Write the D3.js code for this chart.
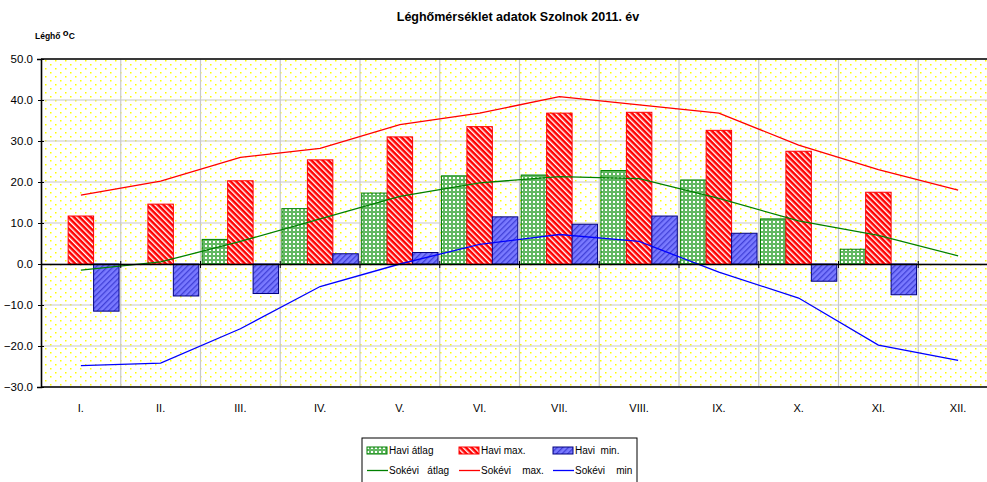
<!DOCTYPE html>
<html>
<head>
<meta charset="utf-8">
<script src="https://cdn.jsdelivr.net/npm/d3@7"></script>
<style>
  body { margin: 0; background: #fff; }
  text { font-family: "Liberation Sans", Arial, sans-serif; }
</style>
</head>
<body>
<div id="chart"></div>
<script>
// months
var months = ["I.", "II.", "III.", "IV.", "V.", "VI.", "VII.", "VIII.", "IX.", "X.", "XI.", "XII."];

// monthly values of 2011 (bars), null = no data
var haviAtlag = [null, null, 6.0, 13.5, 17.3, 21.5, 21.7, 22.8, 20.5, 11.0, 3.6, null];
var haviMax   = [11.7, 14.6, 20.3, 25.4, 31.0, 33.5, 36.8, 37.0, 32.6, 27.5, 17.5, null];
var haviMin   = [-11.5, -7.8, -7.2, 2.5, 2.8, 11.5, 9.7, 11.7, 7.5, -4.2, -7.5, null];

// long term values (lines)
var sokeviAtlag = [-1.5, 0.5, 5.5, 11.0, 16.5, 19.8, 21.3, 20.8, 16.0, 10.5, 7.0, 2.0];
var sokeviMax   = [16.8, 20.2, 26.0, 28.2, 34.0, 36.8, 40.8, 38.8, 36.8, 29.0, 23.0, 18.0];
var sokeviMin   = [-24.8, -24.2, -15.8, -5.5, 0.0, 4.8, 7.2, 5.5, -2.0, -8.3, -19.8, -23.5];

var yTicks = [50, 40, 30, 20, 10, 0, -10, -20, -30];

var barSeries = [
    {name: "Havi átlag", values: haviAtlag, fill: "url(#patGreen)", stroke: "#008000"},
    {name: "Havi max.", values: haviMax, fill: "url(#patRed)", stroke: "#ff0000"},
    {name: "Havi  min.", values: haviMin, fill: "url(#patBlue)", stroke: "#000080"}
];
var lineSeries = [
    {name: "Sokévi   átlag", values: sokeviAtlag, color: "#008000"},
    {name: "Sokévi    max.", values: sokeviMax, color: "#ff0000"},
    {name: "Sokévi    min", values: sokeviMin, color: "#0000ff"}
];

var width = 987, height = 482;
var plot = {left: 41, top: 59, right: 998, bottom: 387};

var svg = d3.select("#chart").append("svg")
    .attr("width", width)
    .attr("height", height);

var defs = svg.append("defs");

// yellow dotted background of the plot area
var bg = defs.append("pattern").attr("id", "patBg")
    .attr("patternUnits", "userSpaceOnUse")
    .attr("width", 10).attr("height", 8);
bg.append("rect").attr("width", 10).attr("height", 8).attr("fill", "#fff");
[[0, 0], [5, 4]].forEach(function(p) {
    bg.append("rect").attr("x", p[0]).attr("y", p[1]).attr("width", 1.5).attr("height", 1.5).attr("fill", "#ffff00");
});

// green dotted fill
var pg = defs.append("pattern").attr("id", "patGreen")
    .attr("patternUnits", "userSpaceOnUse")
    .attr("width", 4).attr("height", 4);
pg.append("rect").attr("width", 4).attr("height", 4).attr("fill", "#62b862");
pg.append("rect").attr("x", 1).attr("y", 1).attr("width", 2).attr("height", 2).attr("fill", "#ffffff");

// red hatch
var pr = defs.append("pattern").attr("id", "patRed")
    .attr("patternUnits", "userSpaceOnUse")
    .attr("width", 4).attr("height", 4)
    .attr("patternTransform", "rotate(-45)");
pr.append("rect").attr("width", 4).attr("height", 4).attr("fill", "#ff0000");
pr.append("rect").attr("width", 1.4).attr("height", 4).attr("fill", "#fff");

// blue hatch
var pb = defs.append("pattern").attr("id", "patBlue")
    .attr("patternUnits", "userSpaceOnUse")
    .attr("width", 4).attr("height", 4)
    .attr("patternTransform", "rotate(45)");
pb.append("rect").attr("width", 4).attr("height", 4).attr("fill", "#7a7aff");
pb.append("rect").attr("width", 1.3).attr("height", 4).attr("fill", "#4040d8");

// scales
var x = d3.scaleBand().domain(months).range([plot.left, plot.right]);
var x1 = d3.scaleBand().domain(barSeries.map(function(d) { return d.name; }))
    .range([1.7, x.bandwidth() - 1.7]);
var y = d3.scaleLinear().domain([-30, 50]).range([plot.bottom, plot.top]);

// title
svg.append("text")
    .attr("x", 518).attr("y", 21)
    .attr("text-anchor", "middle")
    .style("font-size", "12.5px").style("font-weight", "bold")
    .text("Léghőmérséklet adatok Szolnok 2011. év");

var yl = svg.append("text")
    .attr("x", 35).attr("y", 39)
    .style("font-size", "8.5px").style("font-weight", "bold");
yl.append("tspan").text("Léghő ");
yl.append("tspan").attr("dy", -3).style("font-size", "9.5px").text("o");
yl.append("tspan").attr("dy", 3).text("C");

// plot background
svg.append("rect")
    .attr("x", plot.left).attr("y", plot.top)
    .attr("width", plot.right - plot.left).attr("height", plot.bottom - plot.top)
    .attr("fill", "url(#patBg)");

// grid
svg.append("g").selectAll("line.h")
    .data(yTicks)
    .enter().append("line")
    .attr("x1", plot.left).attr("x2", plot.right)
    .attr("y1", function(d) { return y(d); }).attr("y2", function(d) { return y(d); })
    .attr("stroke", "#c8c8c8").attr("stroke-width", 1.2);

svg.append("g").selectAll("line.v")
    .data(months.slice(1))
    .enter().append("line")
    .attr("x1", function(d) { return x(d); }).attr("x2", function(d) { return x(d); })
    .attr("y1", plot.top).attr("y2", plot.bottom)
    .attr("stroke", "#c8c8c8").attr("stroke-width", 1.2);

// bars
barSeries.forEach(function(s) {
    svg.append("g").selectAll("rect")
        .data(s.values.map(function(v, i) { return {m: months[i], v: v}; })
            .filter(function(d) { return d.v !== null; }))
        .enter().append("rect")
        .attr("x", function(d) { return x(d.m) + x1(s.name); })
        .attr("width", x1.bandwidth())
        .attr("y", function(d) { return y(Math.max(0, d.v)); })
        .attr("height", function(d) { return Math.abs(y(d.v) - y(0)); })
        .attr("fill", s.fill)
        .attr("stroke", s.stroke)
        .attr("stroke-width", 1);
});

// lines
var line = d3.line()
    .x(function(d, i) { return x(months[i]) + x.bandwidth() / 2; })
    .y(function(d) { return y(d); });

lineSeries.forEach(function(s) {
    svg.append("path")
        .attr("d", line(s.values))
        .attr("fill", "none")
        .attr("stroke", s.color)
        .attr("stroke-width", 1.3);
});

// plot frame
svg.append("line").attr("x1", plot.left).attr("x2", plot.right)
    .attr("y1", plot.top).attr("y2", plot.top).attr("stroke", "#000").attr("stroke-width", 1.3);
svg.append("line").attr("x1", plot.left).attr("x2", plot.right)
    .attr("y1", plot.bottom).attr("y2", plot.bottom).attr("stroke", "#000").attr("stroke-width", 1.6);

// zero line with category ticks
var xAxis = svg.append("g")
    .attr("transform", "translate(0," + y(0) + ")")
    .call(d3.axisBottom(x).tickValues([]).tickSizeOuter(0));
xAxis.select(".domain").attr("stroke", "#000").attr("stroke-width", 1.5);
xAxis.selectAll("line.cat")
    .data(months.slice(1))
    .enter().append("line")
    .attr("x1", function(d) { return x(d); }).attr("x2", function(d) { return x(d); })
    .attr("y1", -3).attr("y2", 4)
    .attr("stroke", "#000");

// category labels
svg.append("g").selectAll("text")
    .data(months)
    .enter().append("text")
    .attr("x", function(d) { return x(d) + x.bandwidth() / 2; })
    .attr("y", 412)
    .attr("text-anchor", "middle")
    .style("font-size", "11px")
    .text(function(d) { return d; });

// y axis
var yAxis = svg.append("g")
    .attr("transform", "translate(" + plot.left + ",0)")
    .call(d3.axisLeft(y).tickValues(yTicks).tickSize(4).tickPadding(4)
        .tickFormat(d3.format(".1f")));
yAxis.select(".domain").attr("stroke", "#000").attr("stroke-width", 1.6);
yAxis.selectAll(".tick line").attr("stroke", "#000").attr("x2", 3).attr("x1", -3);
yAxis.selectAll(".tick text").style("font-size", "11.5px").attr("fill", "#000")
    .style("font-family", "'Liberation Sans', Arial, sans-serif");

// legend
var lg = svg.append("g").attr("transform", "translate(362,438)");
lg.append("rect").attr("width", 275).attr("height", 45)
    .attr("fill", "#fff").attr("stroke", "#000");

var legX = [5, 97, 191];
barSeries.forEach(function(s, i) {
    lg.append("rect").attr("x", legX[i]).attr("y", 9)
        .attr("width", 20).attr("height", 7)
        .attr("fill", s.fill).attr("stroke", s.stroke);
    lg.append("text").attr("x", legX[i] + 22).attr("y", 16)
        .style("font-size", "10px").style("white-space", "pre")
        .text(s.name);
});
lineSeries.forEach(function(s, i) {
    lg.append("line").attr("x1", legX[i]).attr("x2", legX[i] + 21)
        .attr("y1", 32.5).attr("y2", 32.5)
        .attr("stroke", s.color).attr("stroke-width", 1.3);
    lg.append("text").attr("x", legX[i] + 22).attr("y", 36)
        .style("font-size", "10px").style("white-space", "pre")
        .text(s.name);
});
</script>
</body>
</html>
